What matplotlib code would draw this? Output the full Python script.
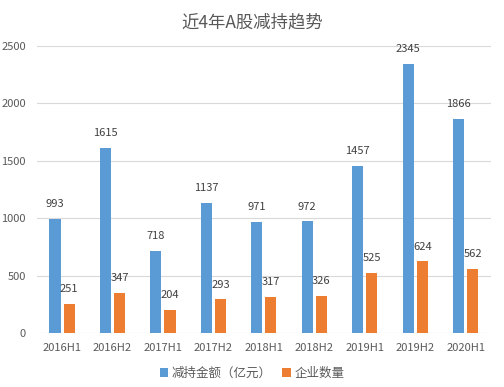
import numpy as np
import matplotlib.pyplot as plt

plt.rcParams['font.family'] = ['Noto Sans CJK SC', 'DejaVu Sans']

# data
periods = ["2016H1", "2016H2", "2017H1", "2017H2", "2018H1", "2018H2", "2019H1", "2019H2", "2020H1"]
amount = [993, 1615, 718, 1137, 971, 972, 1457, 2345, 1866]   # 减持金额（亿元）
companies = [251, 347, 204, 293, 317, 326, 525, 624, 562]      # 企业数量

blue = "#5B9BD5"
orange = "#ED7D31"
gray = "#595959"

fig = plt.figure(figsize=(5.04, 3.87), dpi=100)
ax = fig.add_axes([0.073, 0.1395, 0.901, 0.7415])

x = np.arange(len(periods))
w = 0.22
b1 = ax.bar(x - 0.14, amount, w, color=blue, label="减持金额（亿元）")
b2 = ax.bar(x + 0.14, companies, w, color=orange, label="企业数量")

for bars in (b1, b2):
    for r in bars:
        ax.annotate(f"{int(r.get_height())}", (r.get_x() + r.get_width() / 2, r.get_height()),
                    xytext=(0, 7), textcoords="offset points", ha="center", va="bottom",
                    fontsize=8, color="#404040")

ax.set_ylim(0, 2500)
ax.set_xlim(-0.5, len(periods) - 0.5)
ax.set_yticks(range(0, 2501, 500))
ax.set_xticks(x)
ax.set_xticklabels(periods)
ax.grid(axis="y", color="#D9D9D9", linewidth=0.8)
ax.set_axisbelow(True)
for s in ax.spines.values():
    s.set_visible(False)
ax.tick_params(length=0, labelsize=8, colors=gray)
ax.tick_params(axis="y", pad=8)
ax.tick_params(axis="x", pad=7)

fig.suptitle("近4年A股减持趋势", fontsize=12.5, color=gray, y=0.965)
fig.legend(loc="lower center", ncol=2, frameon=False, fontsize=9, bbox_to_anchor=(0.5, -0.01),
           handlelength=0.7, handleheight=0.7, handletextpad=0.3, columnspacing=0.8, labelcolor=gray)

fig.savefig("out.png", dpi=100)
